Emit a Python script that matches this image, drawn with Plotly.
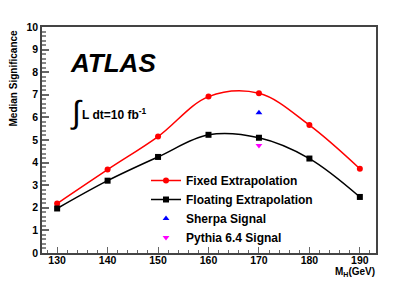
import plotly.graph_objects as go

mass = [130, 140, 150, 160, 170, 180, 190]
fixed_extrap = [2.19, 3.69, 5.15, 6.92, 7.07, 5.66, 3.73]
floating_extrap = [1.97, 3.20, 4.25, 5.23, 5.10, 4.18, 2.48]
sherpa_mass = [170]
sherpa_sig = [6.21]
pythia_mass = [170]
pythia_sig = [4.76]
x_ticks = [130, 140, 150, 160, 170, 180, 190]
y_ticks = list(range(0, 11))

FONT = "Liberation Sans, Arial, Helvetica, sans-serif"
OFF = 8  # default page body margin shifts the figure
W, H = 409, 274
# plot frame in window pixels: x 42..376, y 27..253
L = 42 - OFF
T = 27 - OFF
R = W - (376 - OFF)
B = H - (253 - OFF)
pw, ph = W - L - R, H - T - B


def px(vx):
    return (vx - OFF - L) / pw


def py(vy):
    return (H - B - (vy - OFF)) / ph


fig = go.Figure()
fig.add_trace(go.Scatter(x=mass, y=fixed_extrap, mode="lines+markers", name="Fixed Extrapolation",
                         line=dict(color="#ff0000", width=1.5, shape="spline", smoothing=1.0),
                         marker=dict(color="#ff0000", symbol="circle", size=6)))
fig.add_trace(go.Scatter(x=mass, y=floating_extrap, mode="lines+markers", name="Floating Extrapolation",
                         line=dict(color="#000000", width=1.5, shape="spline", smoothing=1.0),
                         marker=dict(color="#000000", symbol="square", size=6)))
fig.add_trace(go.Scatter(x=sherpa_mass, y=sherpa_sig, mode="markers", name="Sherpa Signal",
                         marker=dict(color="#0000ff", symbol="triangle-up", size=6)))
fig.add_trace(go.Scatter(x=pythia_mass, y=pythia_sig, mode="markers", name="Pythia 6.4 Signal",
                         marker=dict(color="#ff00ff", symbol="triangle-down", size=6)))

axis_common = dict(showline=True, linecolor="#444444", linewidth=1.5, mirror=True,
                   ticks="inside", tickcolor="#666666", showgrid=False, zeroline=False,
                   automargin=False,
                   tickfont=dict(family=FONT, size=10.5, color="#000000", weight="bold"))

fig.update_xaxes(range=[127, 193.2], tickvals=x_ticks, ticklen=6, tickwidth=1,
                 ticklabelstandoff=-3,
                 minor=dict(dtick=2, tick0=130, ticks="inside", ticklen=3, tickcolor="#666666"),
                 **axis_common)
fig.update_yaxes(range=[0, 10], tickvals=y_ticks, ticklen=7, tickwidth=1.5,
                 minor=dict(dtick=0.2, tick0=0, ticks="inside", ticklen=4, tickcolor="#888888"),
                 **axis_common)

fig.add_annotation(xref="paper", yref="paper", x=px(68), y=py(63), xanchor="left", yanchor="middle",
                   text="<b><i>ATLAS</i></b>", showarrow=False,
                   font=dict(family=FONT, size=26, color="#000000"))
fig.add_annotation(xref="paper", yref="paper", x=px(68), y=py(112), xanchor="left", yanchor="middle",
                   text="\u222b", showarrow=False,
                   font=dict(family=FONT, size=32, color="#000000"))
fig.add_annotation(xref="paper", yref="paper", x=px(80), y=py(114), xanchor="left", yanchor="middle",
                   text="<b>L dt=10 fb<sup>-1</sup></b>", showarrow=False,
                   font=dict(family=FONT, size=12, color="#000000"))
fig.add_annotation(xref="paper", yref="paper", x=px(13), y=py(28), xanchor="center", yanchor="top",
                   text="<b>Median Significance</b>", textangle=-90, showarrow=False,
                   font=dict(family=FONT, size=10, color="#000000"))
fig.add_annotation(xref="paper", yref="paper", x=px(377), y=py(272), xanchor="right", yanchor="middle",
                   text="<b>M<sub>H</sub>(GeV)</b>", showarrow=False,
                   font=dict(family=FONT, size=10, color="#000000"))

fig.update_layout(
    width=W, height=H,
    margin=dict(l=L, r=R, t=T, b=B, autoexpand=False),
    paper_bgcolor="#ffffff", plot_bgcolor="#ffffff",
    showlegend=True,
    legend=dict(x=px(146), y=py(166), xanchor="left", yanchor="top",
                bgcolor="rgba(255,255,255,0)", borderwidth=0, tracegroupgap=0,
                font=dict(family=FONT, size=12, color="#000000", weight="bold"),
                itemwidth=30),
)

fig.write_html("out.html")
